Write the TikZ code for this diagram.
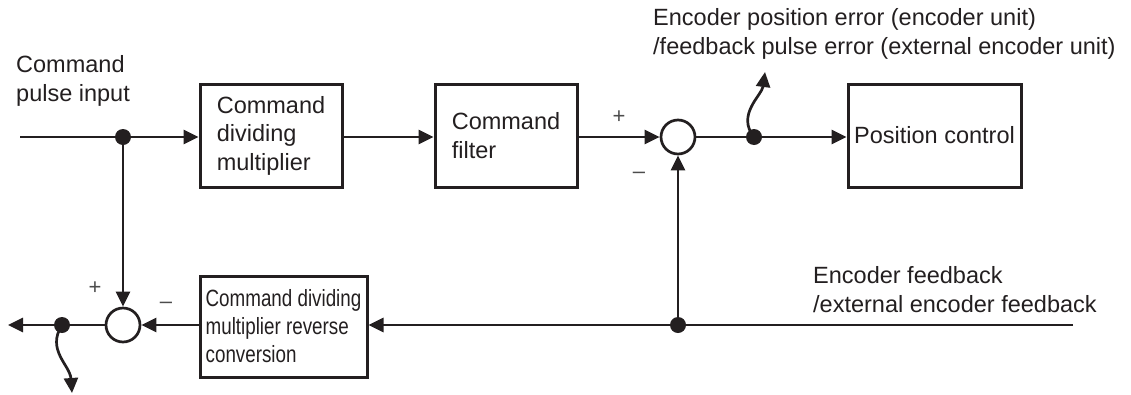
\documentclass[tikz,border=0pt]{standalone}
\usepackage{fontspec}
\setmainfont{Liberation Sans}
\newfontfamily\narrowfont[FakeStretch=0.8]{Liberation Sans}
\usetikzlibrary{arrows.meta}
\definecolor{ink}{RGB}{35,31,32}
\begin{document}
\begin{tikzpicture}[x=1pt,y=-1pt,
  every node/.style={font=\fontsize{23.5}{28.5}\selectfont, text=ink},
  line/.style={line width=2.7pt, draw=ink},
  arr/.style={line, -{Triangle[length=15pt,width=14pt]}},
  block/.style={draw=ink, line width=3pt, minimum height=103pt, align=left, inner sep=0pt},
  sumnode/.style={circle, draw=ink, line width=2.7pt, minimum size=34pt, inner sep=0pt},
  dotnode/.style={circle, fill=ink, inner sep=0pt, minimum size=16pt},
  txt/.style={align=left, inner sep=0pt, anchor=north west, font=\fontsize{23.5}{29}\selectfont},
  pmsign/.style={font=\fontsize{22}{22}\selectfont, text=black!70, inner sep=0pt}]
\useasboundingbox (0,0) rectangle (1131,394);

% blocks
\node[block, minimum width=142pt] (b1) at (271,135.5) {Command\\dividing\\multiplier};
\node[block, minimum width=142pt] (b2) at (506,135.5) {Command\\filter};
\node[block, minimum width=173pt, align=center] (b3) at (934.5,135.5) {Position control};
\node[block, minimum width=167pt, minimum height=101pt,
      font=\narrowfont\fontsize{23.5}{28}\selectfont] (b4) at (283.5,326.5)
      {Command dividing\\multiplier reverse\\conversion};

% labels
\node[txt] (lcmd) at (16,55.6) {Command\\pulse input};
\node[txt] (lerr) at (653,8.6) {Encoder position error (encoder unit)\\/feedback pulse error (external encoder unit)};
\node[txt] (lfb) at (813,266.6) {Encoder feedback\\/external encoder feedback};

% junctions
\coordinate (in) at (20,137);
\node[dotnode] (d1) at (123,137) {};
\node[sumnode] (s1) at (678,137) {};
\node[dotnode] (d2) at (754,137) {};
\coordinate (t1) at (765,72);
\coordinate (fb) at (1073,325);
\node[dotnode] (d3) at (678,325) {};
\node[sumnode] (s2) at (123,325) {};
\node[dotnode] (d4) at (62,325) {};
\coordinate (out) at (8,325);
\coordinate (t2) at (72,393);

% signs
\node[pmsign] (p1) at (619,117) {+};
\node[pmsign] (m1) at (639,175) {–};
\node[pmsign] (p2) at (95,288) {+};
\node[pmsign] (m2) at (166,305) {–};

% connectors
\draw[line] (in) -- (d1);
\draw[arr] (d1) -- (d1 -| b1.west);
\draw[arr] (b1.east |- d1) -- (b2.west |- d1);
\draw[arr] (b2.east |- d1) -- (s1);
\draw[line] (s1) -- (d2);
\draw[arr] (d2) -- (d2 -| b3.west);
\draw[arr] (d2.center) .. controls (736,115) and (762,95) .. (t1);
\draw[line] (fb) -- (d3);
\draw[arr] (d3) -- (d3 -| b4.east);
\draw[arr] (d3) -- (s1);
\draw[arr] (d1) -- (s2);
\draw[arr] (b4.west |- s2) -- (s2);
\draw[line] (s2) -- (d4);
\draw[arr] (d4) -- (out);
\draw[arr] (d4.center) .. controls (46,350) and (70,365) .. (t2);
\end{tikzpicture}
\end{document}
